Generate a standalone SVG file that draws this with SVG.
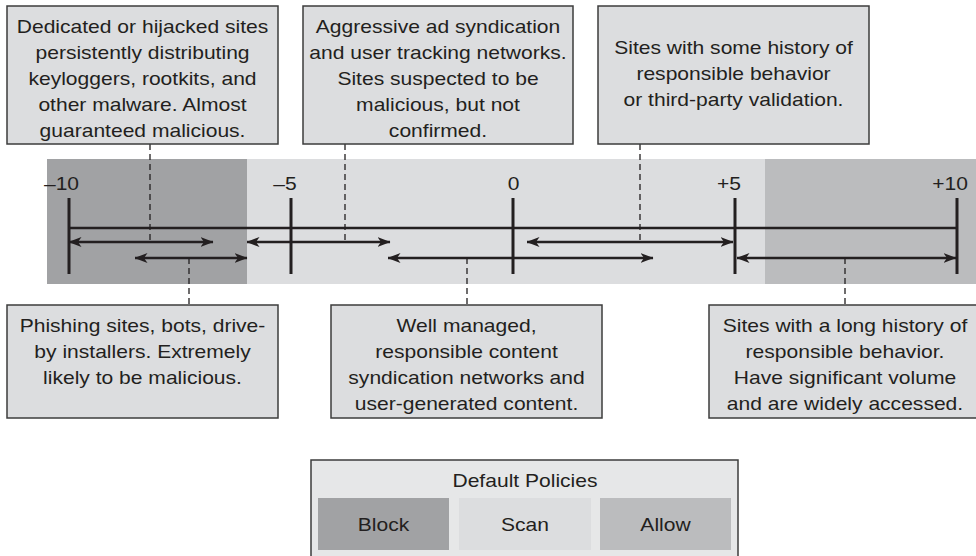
<svg xmlns="http://www.w3.org/2000/svg" width="976" height="556" viewBox="0 0 976 556">
<style>
.t{font-family:"Liberation Sans",Arial,Helvetica,sans-serif;font-size:18px;fill:#231f20;text-anchor:middle}
.box{fill:#dcdddf;stroke:#3c3c3c;stroke-width:1.5}
.ln{stroke:#231f20;stroke-width:2.6;fill:none}
.tick{stroke:#231f20;stroke-width:3;fill:none}
.arr{stroke:#231f20;stroke-width:2.4;fill:none;marker-start:url(#ah);marker-end:url(#ah)}
.dash{stroke:#231f20;stroke-width:1.3;stroke-dasharray:6 4;fill:none}
</style>
<defs>
<marker id="ah" viewBox="0 0 13 10" refX="12.5" refY="5" markerWidth="13" markerHeight="10" markerUnits="userSpaceOnUse" orient="auto-start-reverse">
<path d="M0,0 L13,5 L0,10 L3.5,5 Z" fill="#231f20"/>
</marker>
</defs>

<g id="scale">
<rect x="47" y="159" width="200" height="125" fill="#a1a2a4"/>
<rect x="247" y="159" width="518" height="125" fill="#dcdddf"/>
<rect x="765" y="159" width="211" height="125" fill="#bbbcbe"/>
<line class="ln" x1="69" y1="228" x2="957" y2="228"/>
<line class="tick" x1="69" y1="198" x2="69" y2="274"/>
<line class="tick" x1="291" y1="198" x2="291" y2="274"/>
<line class="tick" x1="513" y1="198" x2="513" y2="274"/>
<line class="tick" x1="735" y1="198" x2="735" y2="274"/>
<line class="tick" x1="957" y1="198" x2="957" y2="274"/>
<text class="t" transform="matrix(1.17,0,0,1,61.5,0)" x="0" y="190">–10</text>
<text class="t" transform="matrix(1.17,0,0,1,285,0)" x="0" y="190">–5</text>
<text class="t" transform="matrix(1.17,0,0,1,513.5,0)" x="0" y="190">0</text>
<text class="t" transform="matrix(1.17,0,0,1,729,0)" x="0" y="190">+5</text>
<text class="t" transform="matrix(1.17,0,0,1,950,0)" x="0" y="190">+10</text>
</g>

<g id="connectors">
<line class="arr" x1="69" y1="242" x2="213" y2="242"/>
<line class="arr" x1="247" y1="242" x2="390" y2="242"/>
<line class="arr" x1="527" y1="242" x2="733" y2="242"/>
<line class="arr" x1="135" y1="258" x2="247" y2="258"/>
<line class="arr" x1="388" y1="258" x2="653" y2="258"/>
<line class="arr" x1="737" y1="258" x2="956" y2="258"/>
<line class="dash" x1="150" y1="144" x2="150" y2="242"/>
<line class="dash" x1="345" y1="144" x2="345" y2="242"/>
<line class="dash" x1="640" y1="144" x2="640" y2="242"/>
<line class="dash" x1="189" y1="258" x2="189" y2="305"/>
<line class="dash" x1="467" y1="258" x2="467" y2="305"/>
<line class="dash" x1="845" y1="258" x2="845" y2="305"/>
</g>

<g id="top1">
<rect class="box" x="7" y="6" width="271" height="138"/>
<text class="t" transform="matrix(1.17,0,0,1,142.5,0)"><tspan x="0" y="33">Dedicated or hijacked sites</tspan><tspan x="0" y="59">persistently distributing</tspan><tspan x="0" y="85">keyloggers, rootkits, and</tspan><tspan x="0" y="111">other malware. Almost</tspan><tspan x="0" y="137">guaranteed malicious.</tspan></text>
</g>
<g id="top2">
<rect class="box" x="303" y="6" width="270" height="138"/>
<text class="t" transform="matrix(1.17,0,0,1,438,0)"><tspan x="0" y="33">Aggressive ad syndication</tspan><tspan x="0" y="59">and user tracking networks.</tspan><tspan x="0" y="85">Sites suspected to be</tspan><tspan x="0" y="111">malicious, but not</tspan><tspan x="0" y="137">confirmed.</tspan></text>
</g>
<g id="top3">
<rect class="box" x="598" y="6" width="271" height="138"/>
<text class="t" transform="matrix(1.17,0,0,1,733.5,0)"><tspan x="0" y="54">Sites with some history of</tspan><tspan x="0" y="80">responsible behavior</tspan><tspan x="0" y="106">or third-party validation.</tspan></text>
</g>

<g id="bottom1">
<rect class="box" x="7" y="305" width="271" height="113"/>
<text class="t" transform="matrix(1.17,0,0,1,142.5,0)"><tspan x="0" y="332">Phishing sites, bots, drive-</tspan><tspan x="0" y="358">by installers. Extremely</tspan><tspan x="0" y="384">likely to be malicious.</tspan></text>
</g>
<g id="bottom2">
<rect class="box" x="331" y="305" width="271" height="113"/>
<text class="t" transform="matrix(1.17,0,0,1,466.5,0)"><tspan x="0" y="332">Well managed,</tspan><tspan x="0" y="358">responsible content</tspan><tspan x="0" y="384">syndication networks and</tspan><tspan x="0" y="410">user-generated content.</tspan></text>
</g>
<g id="bottom3">
<rect class="box" x="709" y="305" width="272" height="113"/>
<text class="t" transform="matrix(1.17,0,0,1,845,0)"><tspan x="0" y="332">Sites with a long history of</tspan><tspan x="0" y="358">responsible behavior.</tspan><tspan x="0" y="384">Have significant volume</tspan><tspan x="0" y="410">and are widely accessed.</tspan></text>
</g>

<g id="legend">
<rect x="311" y="460" width="427" height="110" fill="#e6e7e8" stroke="#3c3c3c" stroke-width="1.5"/>
<text class="t" transform="matrix(1.17,0,0,1,525,0)" x="0" y="487">Default Policies</text>
<rect x="318" y="498" width="131" height="52" fill="#a1a2a4"/>
<rect x="459" y="498" width="132" height="52" fill="#dcdddf"/>
<rect x="600" y="498" width="131" height="52" fill="#bbbcbe"/>
<text class="t" transform="matrix(1.17,0,0,1,383.5,0)" x="0" y="531">Block</text>
<text class="t" transform="matrix(1.17,0,0,1,525,0)" x="0" y="531">Scan</text>
<text class="t" transform="matrix(1.17,0,0,1,665.5,0)" x="0" y="531">Allow</text>
</g>
</svg>
